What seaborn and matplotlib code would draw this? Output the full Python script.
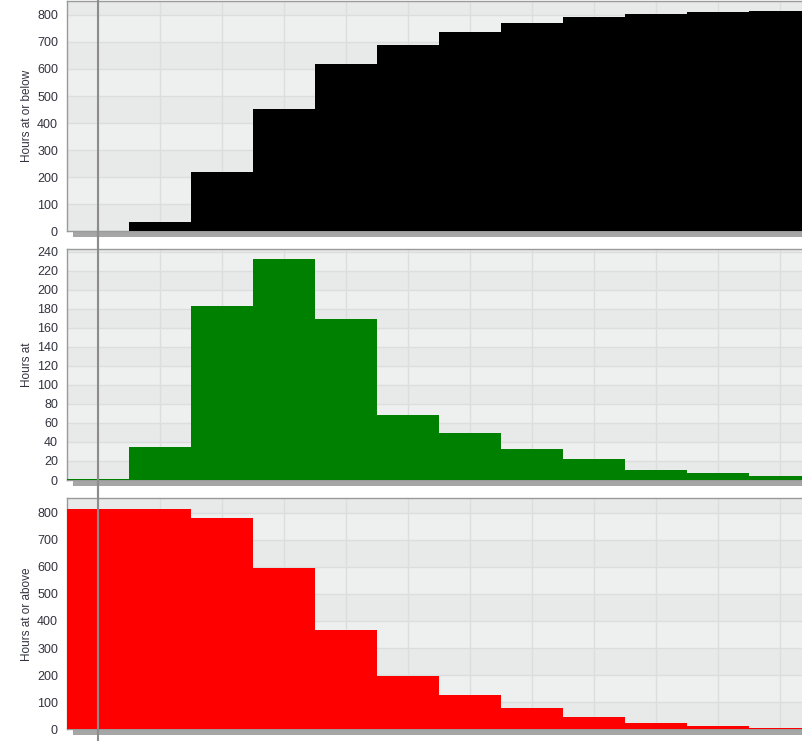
import matplotlib
matplotlib.use("Agg")
import matplotlib.pyplot as plt
import seaborn as sns
from matplotlib.patches import Rectangle
from matplotlib.ticker import MultipleLocator

# bin index (x axis has no labels in the reference)
bins = list(range(12))

hours_below = [1, 36, 219, 451, 620, 688, 737, 771, 793, 804, 811, 815]
hours_at = [1, 35, 183, 232, 169, 68, 49, 33, 22, 11, 7, 4]
hours_above = [815, 814, 780, 596, 365, 196, 128, 77, 44, 22, 11, 4]

labels = ['Hours at or below', 'Hours at', 'Hours at or above']
colors = ['#000000', '#008000', '#ff0000']


def style_panel(ax, step, ymax, bottom_ticks):
    ax.set_facecolor('#eef0ef')
    # alternating horizontal bands between major ticks
    k = 0
    while k * step < ymax:
        if k % 2 == 0:
            ax.axhspan(k * step, (k + 1) * step, color='#e8e9e9', zorder=0, lw=0)
        k += 1
    ax.set_ylim(0, ymax)
    ax.set_xlim(-0.5, -0.5 + 736 / 62)
    ax.yaxis.set_major_locator(MultipleLocator(step))
    ax.yaxis.set_minor_locator(MultipleLocator(step / 4))
    ax.set_xticks(bins)
    ax.set_xticklabels([])
    ax.set_xlabel('')
    ax.grid(True, which='major', color='#dcdddd', lw=1, zorder=0.5)
    ax.set_axisbelow(True)
    for s in ['top', 'left', 'bottom']:
        ax.spines[s].set_color('#9a9a9a')
        ax.spines[s].set_linewidth(1)
    ax.spines['right'].set_visible(False)
    ax.tick_params(axis='y', which='major', length=4.5, width=1, color='#aaaaaa',
                   labelsize=9, labelcolor='#333340', pad=2)
    ax.tick_params(axis='y', which='minor', direction='in', length=5, width=0.8,
                   color='white')
    if bottom_ticks:
        ax.tick_params(axis='x', length=7.5, width=1, color='#aaaaaa')
    else:
        ax.tick_params(axis='x', length=0)
    # shadow under the axis baseline
    ax.add_patch(Rectangle((0.008, -0.026), 1.0, 0.026, transform=ax.transAxes,
                           facecolor='#a6a6a6', edgecolor='none', clip_on=False, zorder=1))
    ax.axvline(0, ymin=-0.1, ymax=1.1, color='#8c8c8c', lw=1.5, clip_on=False, zorder=6)


sns.set_style('white')
plt.rcParams['font.family'] = ['Liberation Sans', 'DejaVu Sans']

fig = plt.figure(figsize=(8.03, 7.41), dpi=100)
left = 67 / 803
width = 1 - left
positions = [(0.6878, 0.3115), (0.3522, 0.3113), (0.0158, 0.3117)]
series = [hours_below, hours_at, hours_above]
steps = [100, 20, 100]
ymaxes = [853, 242.5, 853]

for i, (vals, color, label) in enumerate(zip(series, colors, labels)):
    b, h = positions[i]
    ax = fig.add_axes([left, b, width, h])
    sns.barplot(x=bins, y=vals, color=color, saturation=1, width=1.0,
                linewidth=0, edgecolor=color, ax=ax, zorder=3)
    style_panel(ax, steps[i], ymaxes[i], bottom_ticks=(i == 2))
    ax.set_ylabel(label, fontsize=8.5, color='#333340', labelpad=2.5)

fig.savefig('out.png', dpi=100)
